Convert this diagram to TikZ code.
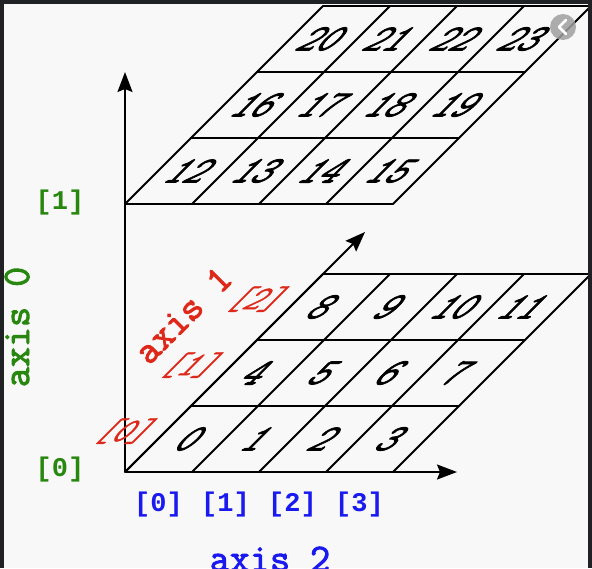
\documentclass[tikz,border=0pt]{standalone}
\usepackage{fontspec}
\newfontfamily\libmono{Liberation Mono}
\newfontfamily\courb{Latin Modern Mono}[FakeBold=2.4]
\newfontfamily\courm{Latin Modern Mono}[FakeBold=1.4]
\usetikzlibrary{arrows.meta}
\definecolor{grn}{RGB}{40,135,15}
\definecolor{blu}{RGB}{25,25,240}
\definecolor{rd}{RGB}{222,40,25}
\definecolor{framec}{RGB}{32,33,36}
\definecolor{bgc}{RGB}{248,248,248}
\begin{document}
\begin{tikzpicture}[x=1pt,y=1pt,
  gridline/.style={line width=1.8pt, line cap=round},
  axisarrow/.style={line width=1.8pt, -{Stealth[length=20pt,width=15pt,inset=3pt]}},
  cellnum/.style={font=\fontsize{37}{37}\selectfont\courb, xslant=1, transform shape, inner sep=0pt},
  redlab/.style={font=\fontsize{33}{33}\selectfont\courm, text=rd, xslant=1, transform shape, inner sep=0pt},
  grnlab/.style={font=\fontsize{27}{27}\selectfont\libmono\bfseries, text=grn, inner sep=0pt},
  blulab/.style={font=\fontsize{27}{27}\selectfont\libmono\bfseries, text=blu, inner sep=0pt},
  axlab/.style={font=\fontsize{39}{39}\selectfont\courb, inner sep=0pt}
]
\useasboundingbox (0,0) rectangle (592,-568);
\fill[bgc] (0,0) rectangle (592,-568);

% lower grid
\foreach \j in {0,...,3}
  \draw[gridline] ({125+66*\j},{-472+66*\j}) -- ({393+66*\j},{-472+66*\j});
\foreach \i in {0,...,4}
  \draw[gridline] ({125+67*\i},-472) -- ({323+67*\i},-274);
% upper grid
\foreach \j in {0,...,3}
  \draw[gridline] ({125+66*\j},{-204+66*\j}) -- ({393+66*\j},{-204+66*\j});
\foreach \i in {0,...,4}
  \draw[gridline] ({125+67*\i},-204) -- ({323+67*\i},-6);

% cell numbers
\foreach \j in {0,1,2}
  \foreach \i in {0,...,3}{
    \pgfmathtruncatemacro{\n}{4*\j+\i}
    \pgfmathtruncatemacro{\m}{12+4*\j+\i}
    \node[cellnum] (c\n) at ({125+67*(\i+0.5)+66*(\j+0.5)},{-472+66*(\j+0.5)}) {\n};
    \node[cellnum] (c\m) at ({125+67*(\i+0.5)+66*(\j+0.5)},{-204+66*(\j+0.5)}) {\m};
  }

% axes
\coordinate (O) at (125,-472);
\coordinate (A0) at (125,-72);
\coordinate (A1) at (365,-232);
\coordinate (A2) at (457,-472);
\draw[axisarrow] (O) -- (A0);
\draw[axisarrow] (O) -- (A1);
\draw[axisarrow] (O) -- (A2);

% axis 1 labels (red)
\foreach \j in {0,1,2}
  \node[redlab] (r\j) at ({125-41+66*(\j+0.65)},{-472+66*(\j+0.62)}) {[\j]};
\node[axlab, text=rd, rotate=45] (ax1) at (183,-315) {axis 1};

% axis 0 labels (green)
\node[grnlab] (g1) at (60,-203) {[1]};
\node[grnlab] (g0) at (60,-470) {[0]};
\node[axlab, text=grn, rotate=90, anchor=base] (ax0) at (29,-327) {axis 0};

% axis 2 labels (blue)
\foreach \i in {0,...,3}
  \node[blulab] (b\i) at ({158.5+67*\i},-505) {[\i]};
\node[axlab, text=blu, anchor=base] (ax2) at (270,-571) {axis 2};

% screenshot frame and icon
\fill[framec] (0,0) rectangle (592,-4);
\fill[framec] (0,0) rectangle (4,-568);
\fill[framec] (588,0) rectangle (592,-568);
\fill[gray!75, opacity=0.85] (563,-27) circle (13);
\draw[white, line width=2.5pt, line cap=round, line join=round] (566,-20) -- (559,-27) -- (566,-34);
\end{tikzpicture}
\end{document}
